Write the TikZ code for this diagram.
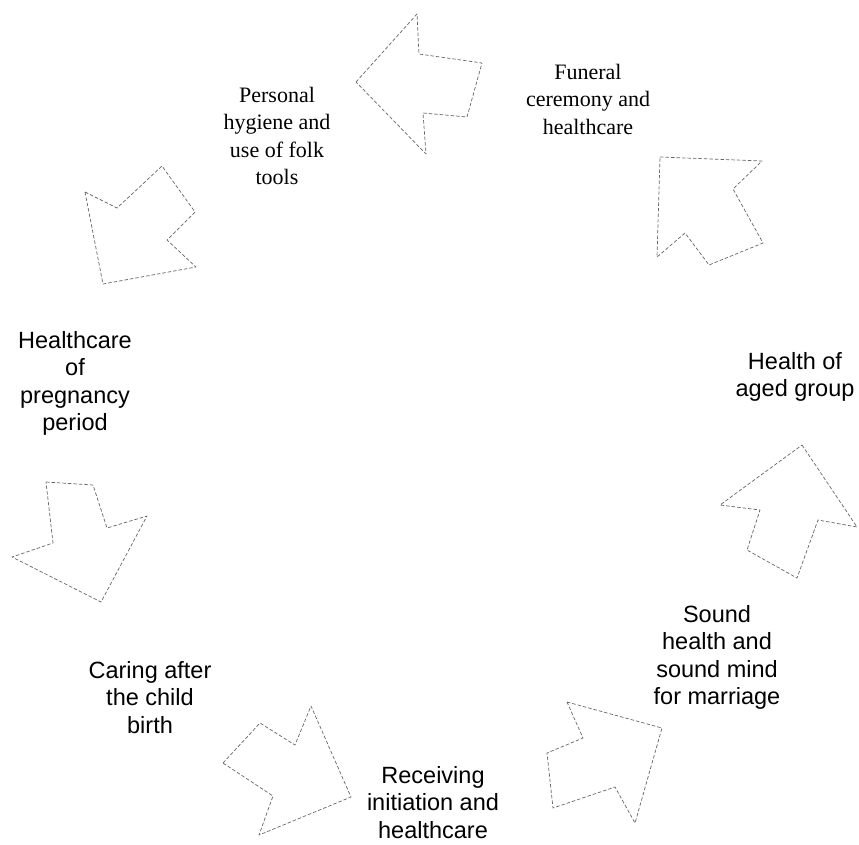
\documentclass[tikz,border=0pt]{standalone}
\usepackage{fontspec}
\setmainfont{Liberation Serif}
\newfontfamily\arialfont{Liberation Sans}
\begin{document}
\begin{tikzpicture}[x=1pt,y=-1pt,
  arrowshape/.style={draw=black!60, line width=0.7pt, dash pattern=on 3.5pt off 2pt, line join=round},
  serifl/.style={anchor=north, inner sep=0pt, align=center, font=\fontsize{22}{27.5}\selectfont},
  sansl/.style={anchor=north, inner sep=0pt, align=center, font=\arialfont\fontsize{23.5}{27.5}\selectfont}]
\useasboundingbox (0,0) rectangle (859,844);
% arrows
\draw[arrowshape] (356,82) -- (417,14) -- (419,54) -- (482,63) -- (467,117) -- (423,113) -- (426,154) -- cycle;
\draw[arrowshape] (660,157) -- (762,161) -- (733,189) -- (763,243) -- (709,265) -- (685,233) -- (657,257) -- cycle;
\draw[arrowshape] (85,192) -- (117,208) -- (162,166) -- (195,212) -- (167,240) -- (196,267) -- (103,284) -- cycle;
\draw[arrowshape] (802,445) -- (857,527) -- (818,520) -- (797,578) -- (747,550) -- (760,510) -- (720,505) -- cycle;
\draw[arrowshape] (46,482) -- (93,485) -- (107,528) -- (147,516) -- (101,602) -- (12,557) -- (53,543) -- cycle;
\draw[arrowshape] (223,763) -- (260,723) -- (295,745) -- (311,706) -- (351,797) -- (259,835) -- (273,796) -- cycle;
\draw[arrowshape] (567,702) -- (662,728) -- (635,823) -- (615,787) -- (553,808) -- (547,753) -- (583,738) -- cycle;
% labels
\node[serifl] (funeral) at (588,64) {Funeral\\ceremony and\\healthcare};
\node[serifl] (hygiene) at (277,87) {Personal\\hygiene and\\use of folk\\tools};
\node[sansl] (pregnancy) at (75,331) {Healthcare\\of\\pregnancy\\period};
\node[sansl] (aged) at (795,352) {Health of\\aged group};
\node[sansl] (marriage) at (717,605) {Sound\\health and\\sound mind\\for marriage};
\node[sansl] (childbirth) at (150,661) {Caring after\\the child\\birth};
\node[sansl] (initiation) at (433,766) {Receiving\\initiation and\\healthcare};
\end{tikzpicture}
\end{document}
